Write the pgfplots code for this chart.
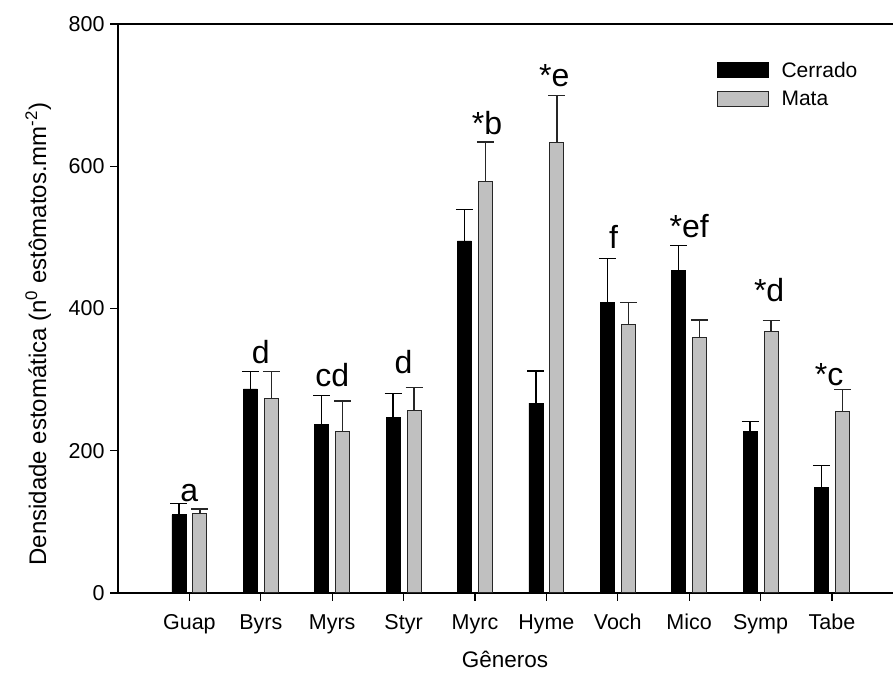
\documentclass[border=0pt]{standalone}
\usepackage{pgfplots}
\pgfplotsset{compat=1.18}
\usepackage{fontspec}
\setmainfont{Liberation Sans}
\definecolor{mgray}{RGB}{192,192,192}
\begin{document}
\begin{tikzpicture}
\begin{axis}[
  name=ax,
  scale only axis,
  width=775pt, height=569pt,
  xmin=0, xmax=10.855, ymin=0, ymax=800,
  ybar=7pt, bar width=14pt,
  axis x line*=box, axis y line*=left,
  axis line style={line width=1.4pt},
  xtick={1,2,3,4,5,6,7,8,9,10},
  xticklabels={Guap,Byrs,Myrs,Styr,Myrc,Hyme,Voch,Mico,Symp,Tabe},
  ytick={0,200,400,600,800},
  xtick pos=bottom, ytick pos=left,
  tick align=outside,
  major tick length=8pt,
  tick style={line width=1.2pt, black},
  /pgf/number format/assume math mode=true,
  tick label style={font=\fontsize{21.5}{24}\selectfont},
  xticklabel style={text height=15pt, text depth=4pt, yshift=-10pt},
  yticklabel style={xshift=-2pt},
  xlabel={Gêneros},
  ylabel={Densidade estomática (n\textsuperscript{0} estômatos.mm\textsuperscript{-2})},
  xlabel style={font=\fontsize{22.5}{24}\selectfont, at={(axis description cs:0.4994,-0.117)}, anchor=center},
  ylabel style={font=\fontsize{24}{26}\selectfont, at={(axis description cs:-0.103,0.455)}, anchor=center},
  clip=false,
  legend style={draw=none, fill=none, at={(axis description cs:0.772,0.937)}, anchor=north west,
    font=\fontsize{21}{24}\selectfont, row sep=8pt, inner sep=0pt,
    /tikz/every odd column/.append style={column sep=11pt}},
  legend cell align=left,
  legend image code/.code={\draw[#1, line width=1pt] (0pt,-7.5pt) rectangle (51pt,7.5pt);},
]
\addplot[fill=black, draw=black, line width=0.6pt,
  error bars/.cd, y dir=plus, y explicit,
  error mark options={rotate=90, mark size=8.5pt, line width=1.3pt, black},
  error bar style={line width=1.3pt, black}]
coordinates {
(1,110) +- (0,16)
(2,287) +- (0,24)
(3,237) +- (0,41)
(4,247) +- (0,33)
(5,495) +- (0,44)
(6,267) +- (0,45)
(7,409) +- (0,61)
(8,454) +- (0,35)
(9,227) +- (0,14)
(10,148) +- (0,31)
};
\addlegendentry{Cerrado}
\addplot[fill=mgray, draw=black!85, line width=1pt,
  error bars/.cd, y dir=plus, y explicit,
  error mark options={rotate=90, mark size=8.5pt, line width=1.3pt, black!85},
  error bar style={line width=1.3pt, black!85}]
coordinates {
(1,112) +- (0,6)
(2,273) +- (0,38)
(3,227) +- (0,43)
(4,257) +- (0,32)
(5,578) +- (0,56)
(6,633) +- (0,66)
(7,378) +- (0,30)
(8,359) +- (0,25)
(9,367) +- (0,16)
(10,255) +- (0,31)
};
\addlegendentry{Mata}
\begin{scope}[every node/.style={font=\fontsize{32}{34}\selectfont, anchor=center, inner sep=0pt}]
\node at (axis cs:1,140.6) {a};
\node at (axis cs:2,339) {d};
\node at (axis cs:3,306.5) {cd};
\node at (axis cs:4,325) {d};
\node at (axis cs:5.17,661) {*b};
\node at (axis cs:6.11,728) {*e};
\node at (axis cs:6.94,500) {f};
\node at (axis cs:8.0,516) {*ef};
\node at (axis cs:9.12,426) {*d};
\node at (axis cs:9.96,306.5) {*c};
\end{scope}
\end{axis}
\pgfresetboundingbox
\path[use as bounding box] ([shift={(-118pt,-87pt)}]ax.south west) rectangle ([shift={(0pt,24pt)}]ax.north east);
\end{tikzpicture}
\end{document}
